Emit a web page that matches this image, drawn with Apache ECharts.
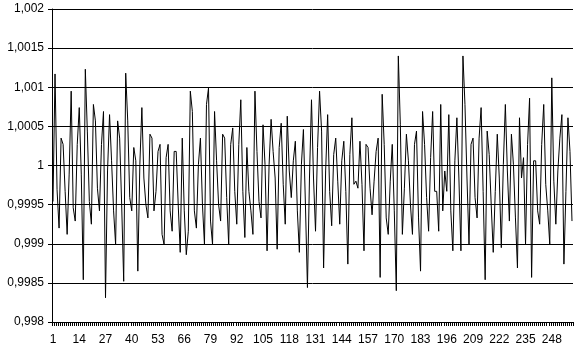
<!DOCTYPE html>
<html>
<head>
<meta charset="utf-8">
<script src="https://cdn.jsdelivr.net/npm/echarts@6/dist/echarts.min.js"></script>
<style>
html,body{margin:0;padding:0;background:#fff;}
#chart{width:575px;height:355px;}
</style>
</head>
<body>
<div id="chart"></div>
<script>
// Category labels 1..258
var categories = [];
for (var c = 1; c <= 258; c++) categories.push(String(c));

// Series values
var values = [
0.99954,1.00117,0.99969,0.99920,1.00035,1.00027,0.99967,0.99912,0.99989,1.00095,
0.99946,0.99929,1.00027,1.00074,0.99989,0.99854,1.00123,1.00044,0.99954,0.99925,
1.00078,1.00057,0.99971,0.99942,1.00027,1.00069,0.99831,0.99993,1.00065,1.00006,
0.99942,0.99899,1.00057,1.00035,0.99950,0.99852,1.00118,1.00057,0.99959,0.99942,
1.00023,1.00006,0.99865,1.00001,1.00074,0.99984,0.99950,0.99933,1.00040,1.00035,
0.99942,0.99967,1.00018,1.00027,0.99912,0.99899,1.00010,1.00027,0.99942,0.99916,
1.00018,1.00018,0.99950,0.99889,1.00035,0.99942,0.99886,0.99916,1.00095,1.00069,
0.99942,0.99920,1.00001,1.00035,0.99950,0.99899,1.00078,1.00099,0.99929,0.99899,
1.00069,1.00006,0.99950,0.99929,1.00040,1.00035,0.99959,0.99899,1.00027,1.00048,
0.99967,0.99925,1.00027,1.00084,0.99967,0.99908,1.00023,0.99967,0.99942,0.99912,
1.00095,1.00018,0.99954,0.99933,1.00052,1.00001,0.99891,1.00001,1.00059,1.00018,
0.99984,0.99893,1.00023,1.00054,0.99976,0.99925,1.00063,0.99993,0.99959,1.00006,
1.00031,0.99942,0.99889,1.00001,1.00046,0.99950,0.99844,0.99984,1.00084,0.99984,
0.99916,1.00023,1.00095,1.00044,0.99869,0.99993,1.00065,0.99967,0.99923,1.00014,
1.00035,0.99980,0.99925,1.00006,1.00031,0.99967,0.99874,1.00014,1.00061,0.99976,
0.99980,0.99971,1.00031,0.99976,0.99891,1.00027,1.00023,0.99971,0.99937,0.99980,
1.00018,1.00035,0.99857,1.00091,1.00027,0.99933,0.99912,0.99980,1.00027,0.99942,
0.99840,1.00140,1.00052,0.99912,0.99971,1.00040,1.00006,0.99950,0.99912,1.00027,
1.00044,0.99933,0.99865,1.00069,1.00027,0.99959,0.99916,1.00010,1.00069,0.99967,
0.99967,0.99916,1.00078,0.99942,0.99993,0.99967,1.00065,0.99942,0.99891,1.00006,
1.00061,0.99984,0.99891,1.00140,1.00078,0.99984,0.99899,1.00027,1.00035,0.99959,
0.99933,1.00035,1.00074,0.99967,0.99854,1.00044,1.00014,0.99950,0.99889,0.99967,
1.00040,0.99984,0.99895,1.00001,1.00078,0.99993,0.99929,1.00040,1.00001,0.99933,
0.99869,1.00061,0.99984,1.00010,0.99899,1.00027,1.00086,0.99857,1.00006,1.00006,
0.99942,0.99925,1.00027,1.00078,0.99976,0.99942,0.99899,1.00112,0.99980,0.99925,
0.99993,1.00035,1.00065,0.99874,0.99967,1.00061,1.00018,0.99929
];

// Y axis tick range
var yMin = 0.998, yMax = 1.002, yStep = 0.0005;

var chart = echarts.init(document.getElementById('chart'), null, {renderer: 'canvas'});
chart.setOption({
  animation: false,
  backgroundColor: '#ffffff',
  grid: {left: 52, right: 2, top: 9, bottom: 33, containLabel: false},
  xAxis: {
    type: 'category',
    data: categories,
    boundaryGap: true,
    axisLine: {show: true, lineStyle: {color: '#000', width: 1}},
    axisTick: {show: true, interval: 0, length: 4, inside: false, lineStyle: {color: '#000', width: 1}},
    axisLabel: {interval: 12, margin: 12, color: '#000', fontFamily: 'Liberation Sans, Arial, sans-serif', fontSize: 12},
    splitLine: {show: false}
  },
  yAxis: {
    type: 'value',
    min: yMin, max: yMax, interval: yStep,
    axisLine: {show: true, lineStyle: {color: '#000', width: 1}},
    axisTick: {show: true, length: 4, lineStyle: {color: '#000'}},
    axisLabel: {
      margin: 8, color: '#000', fontFamily: 'Liberation Sans, Arial, sans-serif', fontSize: 12,
      formatter: function (v) { return String(Number(v.toFixed(4))).replace('.', ','); }
    },
    splitLine: {show: true, lineStyle: {color: '#000', width: 1}}
  },
  series: [{
    type: 'line',
    data: values,
    showSymbol: false,
    symbol: 'none',
    lineStyle: {color: '#000', width: 1},
    itemStyle: {color: '#000'}
  }]
});
</script>
</body>
</html>
